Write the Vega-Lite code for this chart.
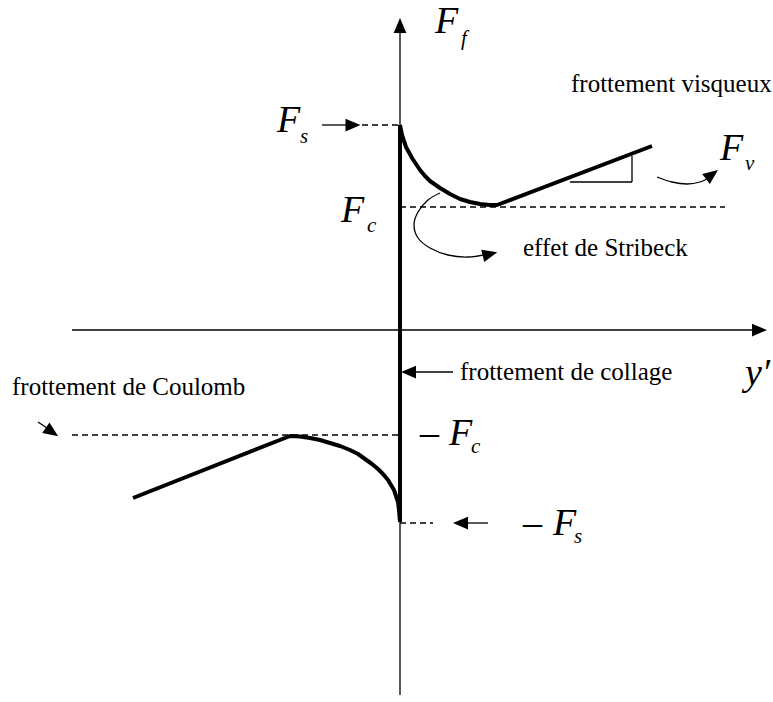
{
  "$schema": "https://vega.github.io/schema/vega-lite/v6.json",
  "width": 773,
  "height": 702,
  "autosize": {"type": "fit", "contains": "padding"},
  "padding": 0,
  "background": "white",
  "config": {"view": {"stroke": null}},
  "datasets": {
    "thin": [
      {"x": 0, "y": 300, "x2": 0, "y2": -365},
      {"x": -328, "y": 0, "x2": 355, "y2": 0},
      {"x": 170, "y": 148, "x2": 232, "y2": 148},
      {"x": 232, "y": 148, "x2": 232, "y2": 174},
      {"x": -78, "y": 205, "x2": -50, "y2": 205},
      {"x": 5, "y": -42, "x2": 53, "y2": -42},
      {"x": 58, "y": -193, "x2": 88, "y2": -193},
      {"x": -362, "y": -92, "x2": -350, "y2": -100}
    ],
    "dashed": [
      {"x": -38, "y": 205, "x2": 0, "y2": 205},
      {"x": 0, "y": 123, "x2": 325, "y2": 123},
      {"x": -328, "y": -105, "x2": -2, "y2": -105},
      {"x": 0, "y": -193, "x2": 33, "y2": -193}
    ],
    "thick": [
      {"curve": "stick", "i": 0, "x": 0, "y": 205},
      {"curve": "stick", "i": 1, "x": 0, "y": -192},
      {"curve": "upper", "i": 0, "x": 0, "y": 205},
      {"curve": "upper", "i": 1, "x": 1, "y": 200},
      {"curve": "upper", "i": 2, "x": 2, "y": 195},
      {"curve": "upper", "i": 3, "x": 4, "y": 189},
      {"curve": "upper", "i": 4, "x": 6, "y": 183},
      {"curve": "upper", "i": 5, "x": 12, "y": 172},
      {"curve": "upper", "i": 6, "x": 16, "y": 166},
      {"curve": "upper", "i": 7, "x": 20, "y": 160},
      {"curve": "upper", "i": 8, "x": 25, "y": 154},
      {"curve": "upper", "i": 9, "x": 30, "y": 149},
      {"curve": "upper", "i": 10, "x": 35, "y": 145.5},
      {"curve": "upper", "i": 11, "x": 40, "y": 142},
      {"curve": "upper", "i": 12, "x": 45, "y": 139},
      {"curve": "upper", "i": 13, "x": 50, "y": 136},
      {"curve": "upper", "i": 14, "x": 55, "y": 133.5},
      {"curve": "upper", "i": 15, "x": 60, "y": 131},
      {"curve": "upper", "i": 16, "x": 65, "y": 129.5},
      {"curve": "upper", "i": 17, "x": 70, "y": 128},
      {"curve": "upper", "i": 18, "x": 75, "y": 127},
      {"curve": "upper", "i": 19, "x": 80, "y": 126},
      {"curve": "upper", "i": 20, "x": 85, "y": 125.5},
      {"curve": "upper", "i": 21, "x": 90, "y": 125},
      {"curve": "upper", "i": 22, "x": 97, "y": 125},
      {"curve": "upper", "i": 23, "x": 252, "y": 184},
      {"curve": "lower", "i": 0, "x": -267, "y": -168},
      {"curve": "lower", "i": 1, "x": -110, "y": -106},
      {"curve": "lower", "i": 2, "x": -100, "y": -106.5},
      {"curve": "lower", "i": 3, "x": -90, "y": -108},
      {"curve": "lower", "i": 4, "x": -80, "y": -110},
      {"curve": "lower", "i": 5, "x": -70, "y": -113},
      {"curve": "lower", "i": 6, "x": -60, "y": -116},
      {"curve": "lower", "i": 7, "x": -50, "y": -120},
      {"curve": "lower", "i": 8, "x": -42, "y": -124},
      {"curve": "lower", "i": 9, "x": -35, "y": -129},
      {"curve": "lower", "i": 10, "x": -28, "y": -134},
      {"curve": "lower", "i": 11, "x": -22, "y": -139},
      {"curve": "lower", "i": 12, "x": -17, "y": -144},
      {"curve": "lower", "i": 13, "x": -12, "y": -150},
      {"curve": "lower", "i": 14, "x": -9, "y": -155},
      {"curve": "lower", "i": 15, "x": -6, "y": -160},
      {"curve": "lower", "i": 16, "x": -4, "y": -166},
      {"curve": "lower", "i": 17, "x": -2, "y": -172},
      {"curve": "lower", "i": 18, "x": -1, "y": -180},
      {"curve": "lower", "i": 19, "x": 0, "y": -192}
    ],
    "thincurves": [
      {"curve": "stribeck", "i": 0, "x": 40, "y": 137},
      {"curve": "stribeck", "i": 1, "x": 28, "y": 130},
      {"curve": "stribeck", "i": 2, "x": 18, "y": 118},
      {"curve": "stribeck", "i": 3, "x": 14, "y": 105},
      {"curve": "stribeck", "i": 4, "x": 18, "y": 92},
      {"curve": "stribeck", "i": 5, "x": 30, "y": 82},
      {"curve": "stribeck", "i": 6, "x": 48, "y": 75},
      {"curve": "stribeck", "i": 7, "x": 68, "y": 73},
      {"curve": "stribeck", "i": 8, "x": 88, "y": 76},
      {"curve": "visc", "i": 0, "x": 257, "y": 153},
      {"curve": "visc", "i": 1, "x": 272, "y": 148},
      {"curve": "visc", "i": 2, "x": 287, "y": 146},
      {"curve": "visc", "i": 3, "x": 300, "y": 148},
      {"curve": "visc", "i": 4, "x": 310, "y": 153}
    ],
    "heads": [
      {"x": 0, "y": 304.5, "a": 0},
      {"x": 359.5, "y": 0, "a": 90},
      {"x": -47, "y": 205, "a": 90},
      {"x": 8.5, "y": -42, "a": 270},
      {"x": 60.5, "y": -193, "a": 270},
      {"x": -348, "y": -102, "a": 125},
      {"x": 90, "y": 76, "a": 76},
      {"x": 312, "y": 155.5, "a": 53}
    ],
    "mathbig": [
      {"x": 35, "y": 297, "t": "F"},
      {"x": -123, "y": 198, "t": "F"},
      {"x": -59, "y": 108, "t": "F"},
      {"x": 320, "y": 170, "t": "F"},
      {"x": 345, "y": -55, "t": "y′"},
      {"x": 49, "y": -115, "t": "F"},
      {"x": 153, "y": -205, "t": "F"}
    ],
    "minus": [
      {"x": 20, "y": -115, "t": "–"},
      {"x": 123, "y": -205, "t": "–"}
    ],
    "mathsub": [
      {"x": 61, "y": 285, "t": "f"},
      {"x": -100, "y": 187, "t": "s"},
      {"x": -33, "y": 98, "t": "c"},
      {"x": 345, "y": 160, "t": "v"},
      {"x": 71, "y": -123, "t": "c"},
      {"x": 174, "y": -213, "t": "s"}
    ],
    "labels": [
      {"x": 171, "y": 238, "t": "frottement visqueux"},
      {"x": 123, "y": 74, "t": "effet de Stribeck"},
      {"x": 60, "y": -50, "t": "frottement de collage"},
      {"x": -388, "y": -65, "t": "frottement de Coulomb"}
    ]
  },
  "encoding": {
    "x": {"field": "x", "type": "quantitative", "scale": {"domain": [-400, 373], "nice": false, "zero": false}, "axis": null},
    "y": {"field": "y", "type": "quantitative", "scale": {"domain": [-372, 330], "nice": false, "zero": false}, "axis": null}
  },
  "layer": [
    {
      "data": {"name": "thin"},
      "mark": {"type": "rule", "color": "black", "strokeWidth": 1.3},
      "encoding": {"x2": {"field": "x2"}, "y2": {"field": "y2"}}
    },
    {
      "data": {"name": "dashed"},
      "mark": {"type": "rule", "color": "black", "strokeWidth": 1.3, "strokeDash": [6, 4]},
      "encoding": {"x2": {"field": "x2"}, "y2": {"field": "y2"}}
    },
    {
      "data": {"name": "thincurves"},
      "mark": {"type": "line", "color": "black", "strokeWidth": 1.3, "interpolate": "cardinal"},
      "encoding": {"detail": {"field": "curve"}, "order": {"field": "i", "type": "quantitative"}}
    },
    {
      "data": {"name": "thick"},
      "mark": {"type": "line", "color": "black", "strokeWidth": 4, "strokeJoin": "round", "strokeCap": "butt"},
      "encoding": {"detail": {"field": "curve"}, "order": {"field": "i", "type": "quantitative"}}
    },
    {
      "data": {"name": "heads"},
      "mark": {"type": "point", "shape": "M0,-1L0.85,1L-0.85,1Z", "filled": true, "color": "black", "opacity": 1, "size": 225, "strokeWidth": 0},
      "encoding": {"angle": {"field": "a", "type": "quantitative", "scale": null}}
    },
    {
      "data": {"name": "mathbig"},
      "mark": {"type": "text", "font": "Liberation Serif", "fontStyle": "italic", "fontSize": 38, "align": "left", "baseline": "alphabetic", "color": "black"},
      "encoding": {"text": {"field": "t"}}
    },
    {
      "data": {"name": "minus"},
      "mark": {"type": "text", "font": "Liberation Serif", "fontSize": 38, "align": "left", "baseline": "alphabetic", "color": "black"},
      "encoding": {"text": {"field": "t"}}
    },
    {
      "data": {"name": "mathsub"},
      "mark": {"type": "text", "font": "Liberation Serif", "fontStyle": "italic", "fontSize": 21, "align": "left", "baseline": "alphabetic", "color": "black"},
      "encoding": {"text": {"field": "t"}}
    },
    {
      "data": {"name": "labels"},
      "mark": {"type": "text", "font": "Liberation Serif", "fontSize": 25, "align": "left", "baseline": "alphabetic", "color": "black"},
      "encoding": {"text": {"field": "t"}}
    }
  ]
}
